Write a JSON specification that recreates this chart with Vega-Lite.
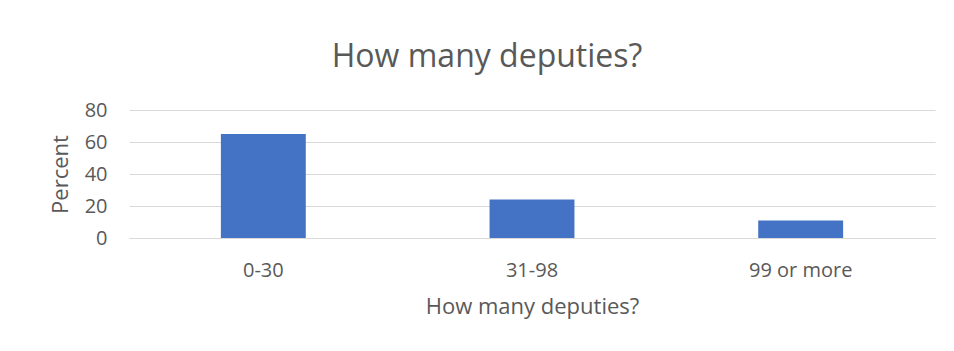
{
  "$schema": "https://vega.github.io/schema/vega-lite/v6.json",
  "autosize": "none",
  "width": 806,
  "height": 128,
  "padding": {"left": 129, "top": 110, "right": 19, "bottom": 113},
  "background": "white",
  "title": {
    "text": "How many deputies?",
    "anchor": "middle",
    "frame": "bounds",
    "font": "Open Sans",
    "fontSize": 32,
    "fontWeight": "normal",
    "color": "#595959",
    "offset": 26,
    "dx": -5
  },
  "data": {
    "values": [
      {"category": "0-30", "percent": 65},
      {"category": "31-98", "percent": 24},
      {"category": "99 or more", "percent": 11}
    ]
  },
  "mark": {"type": "bar", "color": "#4472C4"},
  "encoding": {
    "x": {
      "field": "category",
      "type": "nominal",
      "sort": null,
      "title": "How many deputies?",
      "scale": {"paddingInner": 0.684, "paddingOuter": 0.342},
      "axis": {
        "labelAngle": 0,
        "labelPadding": 22,
        "ticks": false,
        "domain": true,
        "domainColor": "#d9d9d9",
        "labelFont": "Open Sans",
        "labelFontSize": 20,
        "labelColor": "#595959",
        "titleFont": "Open Sans",
        "titleFontSize": 22,
        "titleFontWeight": "normal",
        "titleColor": "#595959",
        "titlePadding": 16
      }
    },
    "y": {
      "field": "percent",
      "type": "quantitative",
      "title": "Percent",
      "scale": {"domain": [0, 80]},
      "axis": {
        "values": [0, 20, 40, 60, 80],
        "domain": false,
        "ticks": false,
        "gridColor": "#d9d9d9",
        "gridWidth": 1,
        "labelPadding": 22,
        "labelFont": "Open Sans",
        "labelFontSize": 20,
        "labelColor": "#595959",
        "titleFont": "Open Sans",
        "titleFontSize": 22,
        "titleFontWeight": "normal",
        "titleColor": "#595959",
        "titlePadding": 12
      }
    }
  },
  "config": {"view": {"stroke": null}}
}
